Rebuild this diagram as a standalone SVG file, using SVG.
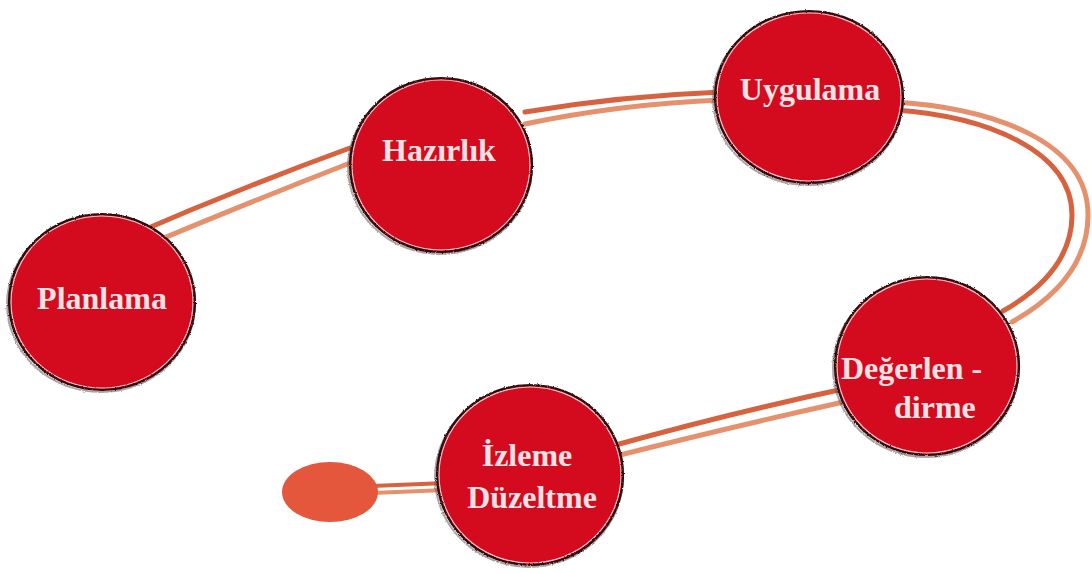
<svg xmlns="http://www.w3.org/2000/svg" width="1092" height="574" viewBox="0 0 1092 574">
  <defs>
    <filter id="rough" x="-10%" y="-10%" width="120%" height="120%">
      <feTurbulence type="fractalNoise" baseFrequency="0.9" numOctaves="2" seed="3" result="n"/>
      <feDisplacementMap in="SourceGraphic" in2="n" scale="2.5" xChannelSelector="R" yChannelSelector="G"/>
    </filter>
    <style>
      .dark { fill: none; stroke: #d6623f; stroke-width: 5; stroke-linecap: round; }
      .light { fill: none; stroke: #e6916d; stroke-width: 5; stroke-linecap: round; }
      .thin { stroke-width: 4; }
      .disc { fill: #d40a1f; }
      .shadow { fill: none; stroke: #6b5a5a; stroke-width: 2; opacity: 0.55; filter: url(#rough); }
      .rim { fill: none; stroke: #2b0b0b; stroke-width: 2.2; filter: url(#rough); }
      .ring { fill: none; stroke: #f3c9cc; stroke-width: 1.2; }
      .lbl { font-family: "Liberation Serif", "Times New Roman", serif; font-weight: bold; font-size: 32px; fill: #f6e2e4; }
    </style>
  </defs>
  <rect width="1092" height="574" fill="#ffffff"/>

  <g id="connectors">
    <path class="dark" d="M 125 238 Q 235 190 350 148"/>
    <path class="light" d="M 135 250 Q 245 204 350 163"/>
    <path class="dark" d="M 525 112 Q 620 96 722 92"/>
    <path class="light" d="M 525 124 Q 620 104 722 100"/>
    <path class="light" d="M 895 102 C 990 108 1088 140 1088 215 C 1088 260 1060 295 1012 322"/>
    <path class="dark" d="M 895 110 C 985 116 1072 150 1072 215 C 1072 255 1045 287 1003 311"/>
    <path class="dark" d="M 848 388 Q 735 412 612 446"/>
    <path class="light" d="M 848 401 Q 735 426 612 457"/>
    <path class="dark thin" d="M 372 486 L 446 483"/>
    <path class="light thin" d="M 372 493 L 446 490"/>
  </g>

  <g id="start">
    <ellipse cx="330" cy="492" rx="48" ry="30" fill="#e5573c"/>
  </g>

  <g id="planlama">
    <ellipse class="shadow" cx="101" cy="304" rx="94" ry="88"/>
    <ellipse class="disc" cx="102" cy="302" rx="93" ry="88"/>
    <ellipse class="ring" cx="102" cy="302" rx="91" ry="86"/>
    <ellipse class="rim" cx="102" cy="302" rx="93" ry="88"/>
    <text class="lbl" x="102" y="309" text-anchor="middle">Planlama</text>
  </g>

  <g id="hazirlik">
    <ellipse class="shadow" cx="440" cy="167" rx="92" ry="87"/>
    <ellipse class="disc" cx="441" cy="165" rx="91" ry="87"/>
    <ellipse class="ring" cx="441" cy="165" rx="89" ry="85"/>
    <ellipse class="rim" cx="441" cy="165" rx="91" ry="87"/>
    <text class="lbl" x="439" y="161" text-anchor="middle">Hazırlık</text>
  </g>

  <g id="uygulama">
    <ellipse class="shadow" cx="808" cy="99" rx="95" ry="86"/>
    <ellipse class="disc" cx="809" cy="97" rx="94" ry="86"/>
    <ellipse class="ring" cx="809" cy="97" rx="92" ry="84"/>
    <ellipse class="rim" cx="809" cy="97" rx="94" ry="86"/>
    <text class="lbl" x="810" y="100" text-anchor="middle">Uygulama</text>
  </g>

  <g id="degerlendirme">
    <ellipse class="shadow" cx="926" cy="368" rx="93" ry="89"/>
    <ellipse class="disc" cx="927" cy="366" rx="92" ry="89"/>
    <ellipse class="ring" cx="927" cy="366" rx="90" ry="87"/>
    <ellipse class="rim" cx="927" cy="366" rx="92" ry="89"/>
    <text class="lbl" x="841" y="379">Değerlen -</text>
    <text class="lbl" x="894" y="418">dirme</text>
  </g>

  <g id="izleme">
    <ellipse class="shadow" cx="529" cy="477" rx="94" ry="90"/>
    <ellipse class="disc" cx="530" cy="475" rx="93" ry="90"/>
    <ellipse class="ring" cx="530" cy="475" rx="91" ry="88"/>
    <ellipse class="rim" cx="530" cy="475" rx="93" ry="90"/>
    <text class="lbl" x="527" y="466" text-anchor="middle">İzleme</text>
    <text class="lbl" x="532" y="508" text-anchor="middle">Düzeltme</text>
  </g>
</svg>
